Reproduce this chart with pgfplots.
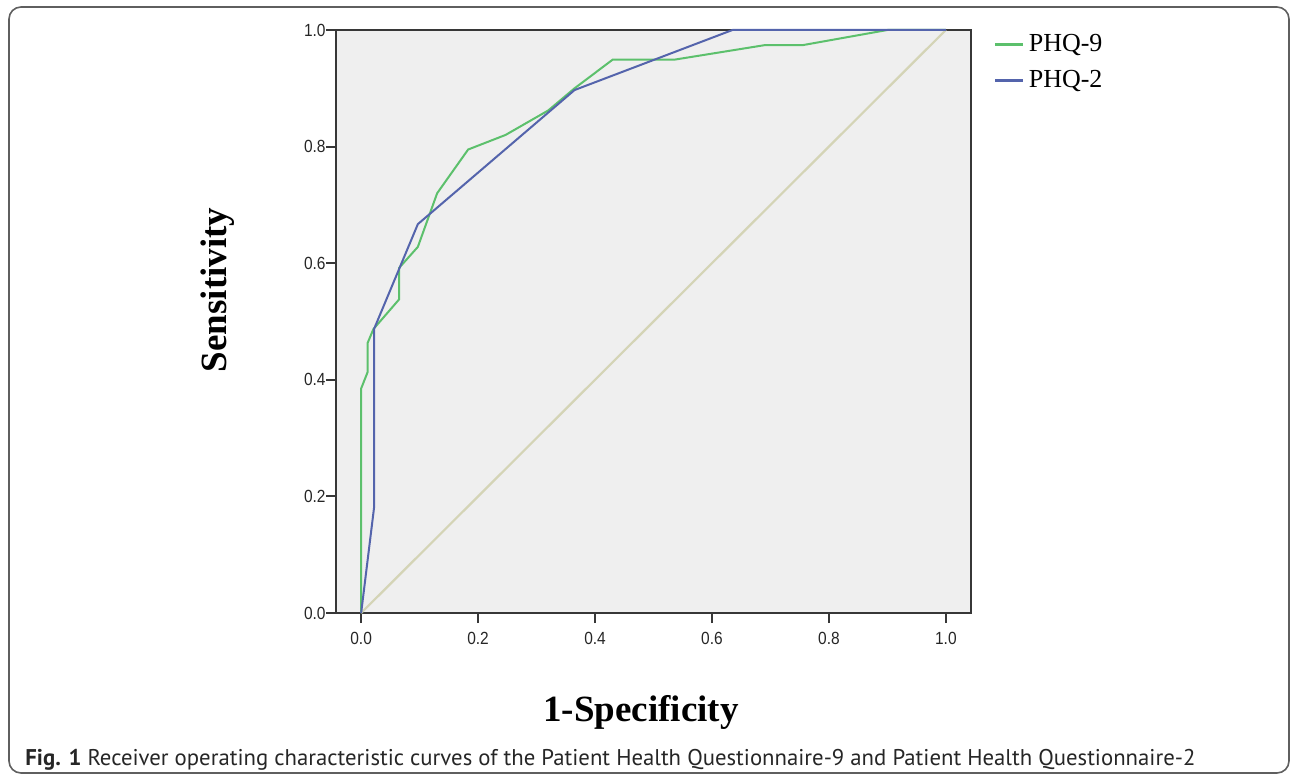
\documentclass[border=0pt]{standalone}
\usepackage{fontspec}
\setmainfont{Liberation Serif}
\newfontfamily\ticksf[FakeStretch=0.88]{Liberation Sans}
\newfontfamily\capsf{PT Sans}
\usepackage{pgfplots}
\pgfplotsset{compat=1.18}
\definecolor{phqnine}{RGB}{92,192,108}
\definecolor{phqtwo}{RGB}{84,100,172}
\definecolor{refline}{RGB}{212,212,182}
\definecolor{panel}{RGB}{239,239,239}
\definecolor{frame}{RGB}{55,55,55}

\begin{document}
\begin{tikzpicture}
\begin{scope}[x=0.5pt,y=-0.5pt]
\path[use as bounding box] (0,0) rectangle (1292,775);
\draw[frame!80, line width=0.8pt, rounded corners=6pt] (9,7) rectangle (1289,773);
\node[rotate=90, font=\fontsize{18.5}{20}\selectfont\bfseries] at (218,290) {Sensitivity};
\node[font=\fontsize{18.5}{20}\selectfont\bfseries] at (641,712) {1-Specificity};
\node[anchor=west, inner sep=0pt, text=black!85] at (25,760)
  {\resizebox{585pt}{!}{\capsf\fontsize{10}{12}\selectfont\textbf{Fig. 1} Receiver operating characteristic curves of the Patient Health Questionnaire-9 and Patient Health Questionnaire-2}};
\end{scope}

\begin{axis}[
    at={(168pt,-306.5pt)}, anchor=south west,
    scale only axis, width=317.5pt, height=291.5pt,
    xmin=-0.043, xmax=1.043, ymin=0, ymax=1,
    axis background/.style={fill=panel},
    axis line style={frame, line width=1.4pt},
    xtick={0,0.2,0.4,0.6,0.8,1}, xticklabels={0.0,0.2,0.4,0.6,0.8,1.0},
    ytick={0,0.2,0.4,0.6,0.8,1}, yticklabels={0.0,0.2,0.4,0.6,0.8,1.0},
    xtick pos=bottom, ytick pos=left, tick align=outside,
    major tick length=5pt,
    tick style={frame, line width=1pt},
    ticklabel style={font=\ticksf\fontsize{8.8}{10}\selectfont, text=black!85},
    yticklabel style={inner sep=0pt},
    xticklabel style={yshift=-1pt},
    clip=false,
    legend style={draw=none, fill=none, at={(1.035,1)}, anchor=north west,
        font=\fontsize{13}{15}\selectfont, row sep=4pt, inner sep=0pt,
        cells={anchor=west}},
    legend image code/.code={\draw[#1, line width=1.6pt] (0pt,0pt) -- (14pt,0pt);},
]
\addplot[refline, line width=1.1pt, forget plot] coordinates {(0,0) (1,1)};
\addplot[phqnine, line width=1pt] coordinates {
  (0,0) (0,0.385) (0.011,0.413) (0.011,0.463) (0.021,0.487) (0.065,0.538)
  (0.065,0.592) (0.097,0.628) (0.13,0.72) (0.183,0.795) (0.247,0.82)
  (0.32,0.862) (0.365,0.9) (0.43,0.949) (0.535,0.949) (0.69,0.974)
  (0.755,0.974) (0.9,1.0) (1,1)};
\addplot[phqtwo, line width=1pt] coordinates {
  (0,0) (0.022,0.18) (0.022,0.487) (0.097,0.667) (0.365,0.897) (0.635,1.0) (1,1)};
\legend{PHQ-9, PHQ-2}
\end{axis}
\end{tikzpicture}
\end{document}
